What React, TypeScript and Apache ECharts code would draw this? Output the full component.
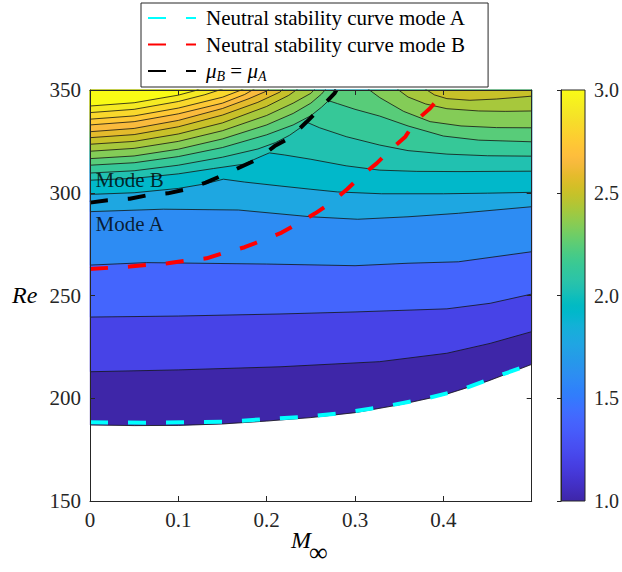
import React, { useEffect, useRef } from 'react';
import * as echarts from 'echarts';

// ---------- axis ranges / ticks ----------
const M_RANGE = [0, 0.5];
const RE_RANGE = [150, 350];
const CBAR_RANGE = [1, 3];

// ---------- contour lines [M, Re] ----------
const boundaryA = [[0, 187.0], [0.05, 186.7], [0.1, 186.8], [0.15, 187.5], [0.2, 188.9], [0.25, 190.6], [0.3, 193.0], [0.35, 196.8], [0.4, 201.5], [0.45, 208.3], [0.5, 216.5]];
const level1 = [[0, 212.9], [0.1, 213.8], [0.215, 215.3], [0.328, 217.8], [0.404, 221.9], [0.453, 226.7], [0.5, 232.4]];
const level2 = [[0, 239.5], [0.1, 240.0], [0.215, 241.0], [0.3, 242.0], [0.404, 243.5], [0.453, 246.2], [0.5, 250.7]];
const level3 = [[0, 264.8], [0.064, 266.0], [0.2, 265.3], [0.3, 264.5], [0.36, 265.7], [0.417, 266.4], [0.5, 271.3]];
const level4 = [[0, 290.8], [0.083, 292.0], [0.168, 291.6], [0.25, 288.3], [0.303, 287.1], [0.36, 288.3], [0.417, 290.0], [0.5, 293.2]];
const level5 = [[0, 299.2], [0.05, 300.0], [0.1, 302.1], [0.13, 304.3], [0.151, 306.6], [0.175, 305.2], [0.215, 303.3], [0.25, 301.7], [0.28, 300.4], [0.33, 299.5], [0.4, 299.5], [0.45, 299.8], [0.5, 300.2]];
const level6 = [[0, 306.1], [0.05, 307.0], [0.1, 309.2], [0.14, 311.8], [0.174, 313.9], [0.19, 317.0], [0.203, 319.4], [0.22, 318.4], [0.25, 316.3], [0.29, 313.1], [0.328, 311.0], [0.37, 310.4], [0.42, 310.3], [0.5, 310.5]];
const level7 = [[0, 309.6], [0.05, 310.7], [0.1, 313.4], [0.15, 317.3], [0.19, 321.3], [0.21, 324.4], [0.226, 328.0], [0.238, 331.6], [0.2455, 334.3], [0.26, 331.6], [0.29, 327.3], [0.328, 323.2], [0.36, 320.5], [0.404, 318.8], [0.45, 318.0], [0.5, 317.8]];
const level8 = [[0, 313.4], [0.05, 314.6], [0.1, 317.6], [0.15, 322.0], [0.2, 328.2], [0.23, 333.0], [0.25, 337.5], [0.262, 341.6], [0.27, 344.8], [0.28, 343.4], [0.3, 340.6], [0.328, 337.3], [0.36, 332.5], [0.4, 327.6], [0.44, 325.6], [0.5, 324.8]];
const level9Left = [[0, 316.6], [0.05, 317.9], [0.1, 321.2], [0.15, 326.2], [0.2, 333.0], [0.23, 338.6], [0.25, 343.6], [0.262, 348.0], [0.27, 352.0]];
const level9Right = [[0.31, 352.0], [0.328, 346.3], [0.355, 339.6], [0.385, 334.6], [0.42, 332.5], [0.46, 331.7], [0.5, 331.6]];
const level10Left = [[0, 320.2], [0.05, 321.6], [0.1, 325.0], [0.15, 330.2], [0.2, 337.6], [0.23, 343.6], [0.25, 348.4], [0.258, 352.0]];
const level10Right = [[0.343, 352.0], [0.36, 346.6], [0.38, 343.2], [0.404, 340.9], [0.44, 339.8], [0.47, 339.6], [0.5, 339.8]];
const level11Left = [[0, 323.6], [0.05, 325.0], [0.1, 328.6], [0.15, 334.0], [0.2, 342.0], [0.225, 347.4], [0.24, 352.0]];
const level11Right = [[0.374, 352.0], [0.39, 347.6], [0.404, 345.8], [0.43, 345.0], [0.46, 345.6], [0.5, 347.0]];
const level12 = [[0, 326.8], [0.05, 328.3], [0.1, 332.1], [0.15, 337.8], [0.19, 344.0], [0.215, 349.0], [0.222, 352.0]];
const level13 = [[0, 329.7], [0.05, 331.3], [0.1, 335.2], [0.15, 341.0], [0.18, 345.8], [0.2, 349.5], [0.206, 352.0]];
const level14 = [[0, 333.0], [0.05, 334.6], [0.1, 338.4], [0.15, 343.6], [0.175, 347.8], [0.192, 352.0]];
const level15 = [[0, 335.8], [0.05, 337.4], [0.1, 341.2], [0.15, 346.5], [0.17, 349.8], [0.18, 352.0]];
const level16 = [[0, 339.0], [0.05, 340.6], [0.1, 344.4], [0.13, 347.7], [0.15, 350.5], [0.156, 352.0]];
const level17 = [[0, 342.2], [0.05, 343.8], [0.1, 347.5], [0.12, 349.8], [0.13, 352.0]];

// contour values (mu) of boundary + 17 levels
const contourValues = [1.0, 1.2, 1.39, 1.6, 1.78, 1.92, 2.04, 2.14, 2.24, 2.34, 2.42, 2.5, 2.58, 2.66, 2.74, 2.82, 2.91, 3.0];
const contourParts = [
  [boundaryA], [level1], [level2], [level3], [level4], [level5], [level6], [level7], [level8],
  [level9Left, level9Right], [level10Left, level10Right], [level11Left, level11Right],
  [level12], [level13], [level14], [level15], [level16], [level17],
];

// ---------- dashed curves ----------
const neutralA = [[0, 188.3], [0.064, 188.1], [0.155, 188.6], [0.2, 189.9], [0.245, 191.0], [0.287, 192.9], [0.332, 195.9], [0.377, 199.5], [0.419, 204.0], [0.46, 210.5], [0.5, 216.7]];
const neutralB = [[0, 262.9], [0.045, 264.1], [0.066, 264.9], [0.088, 265.7], [0.109, 267.0], [0.132, 268.1], [0.152, 270.8], [0.175, 273.5], [0.196, 277.0], [0.217, 280.6], [0.236, 285.2], [0.255, 290.0], [0.272, 294.9], [0.291, 301.7], [0.306, 307.8], [0.3245, 314.3], [0.34, 320.8], [0.357, 327.3], [0.368, 334.6], [0.385, 341.1], [0.398, 347.6], [0.402, 350.0]];
const muEqual = [[0, 295.2], [0.02, 296.3], [0.045, 297.1], [0.065, 298.8], [0.088, 299.7], [0.109, 301.7], [0.131, 304.9], [0.15, 308.5], [0.173, 313.0], [0.19, 316.4], [0.209, 322.7], [0.226, 326.6], [0.245, 334.4], [0.259, 340.3], [0.277, 348.5], [0.279, 350.0]];

const modeLabels = [[0, 306.0, 'Mode B'], [0, 284.6, 'Mode A']];

const NAME_A = 'Neutral stability curve mode A';
const NAME_B = 'Neutral stability curve mode B';
const NAME_MU = 'μB = μA';

// ---------- colormap (parula) ----------
const PARULA = ['#3e26a8', '#402ab4', '#422ec0', '#4332cb', '#4537d5', '#463cde', '#4741e5', '#4747eb', '#484df0', '#4852f4', '#4758f8', '#465efb', '#4563fd', '#4269fe', '#3e6fff', '#3875fe', '#327cfc', '#2f81fa', '#2e87f7', '#2d8cf3', '#2b91ef', '#2796eb', '#259be8', '#23a0e5', '#20a5e3', '#1ca9df', '#18addb', '#12b1d6', '#08b5d0', '#01b8ca', '#02bac3', '#0bbdbd', '#19bfb6', '#24c1ae', '#2cc4a7', '#31c69f', '#37c897', '#3fca8e', '#4acb84', '#57cc7a', '#64cd6f', '#72cd64', '#81cc59', '#8fcb4e', '#9dc943', '#abc739', '#b9c431', '#c5c22a', '#d1bf27', '#dcbd29', '#e6bb2d', '#f0ba36', '#f8ba3d', '#febe3c', '#fec338', '#fec934', '#fccf30', '#fad62d', '#f7dc2a', '#f5e327', '#f5e924', '#f6ef20', '#f7f51b', '#f9fb15'];

function hexRgb(h: string) {
  return [parseInt(h.slice(1, 3), 16), parseInt(h.slice(3, 5), 16), parseInt(h.slice(5, 7), 16)];
}
function parula(v: number) {
  let t = (v - CBAR_RANGE[0]) / (CBAR_RANGE[1] - CBAR_RANGE[0]);
  t = Math.max(0, Math.min(1, t));
  const x = t * (PARULA.length - 1);
  const i = Math.floor(x);
  const j = Math.min(i + 1, PARULA.length - 1);
  const f = x - i;
  const a = hexRgb(PARULA[i]);
  const b = hexRgb(PARULA[j]);
  const c = a.map((u, k) => Math.round(u + (b[k] - u) * f));
  return `rgb(${c[0]},${c[1]},${c[2]})`;
}

// ---------- geometry helpers ----------
function closeTop(pts: number[][]) {
  const f = pts[0];
  const l = pts[pts.length - 1];
  const x0 = f[0] <= M_RANGE[0] ? M_RANGE[0] - 0.02 : f[0];
  const x1 = l[0] >= M_RANGE[1] ? M_RANGE[1] + 0.02 : l[0];
  const out: number[][] = [];
  if (f[0] <= M_RANGE[0]) out.push([x0, f[1]]);
  pts.forEach((p) => out.push(p));
  if (l[0] >= M_RANGE[1]) out.push([x1, l[1]]);
  out.push([x1, 420], [x0, 420]);
  return out;
}
function clipEdge(pts: number[][], inside: (p: number[]) => boolean, inter: (a: number[], b: number[]) => number[]) {
  const out: number[][] = [];
  for (let i = 0; i < pts.length; i++) {
    const cur = pts[i];
    const prev = pts[(i + pts.length - 1) % pts.length];
    if (inside(cur)) {
      if (!inside(prev)) out.push(inter(prev, cur));
      out.push(cur);
    } else if (inside(prev)) {
      out.push(inter(prev, cur));
    }
  }
  return out;
}
function clipRect(pts: number[][]) {
  const [x0, x1] = M_RANGE;
  const [y0, y1] = RE_RANGE;
  const ix = (x: number) => (a: number[], b: number[]) => [x, a[1] + ((b[1] - a[1]) * (x - a[0])) / (b[0] - a[0])];
  const iy = (y: number) => (a: number[], b: number[]) => [a[0] + ((b[0] - a[0]) * (y - a[1])) / (b[1] - a[1]), y];
  let p = clipEdge(pts, (q) => q[0] >= x0, ix(x0));
  p = clipEdge(p, (q) => q[0] <= x1, ix(x1));
  p = clipEdge(p, (q) => q[1] >= y0, iy(y0));
  p = clipEdge(p, (q) => q[1] <= y1, iy(y1));
  return p;
}

const fills: { pts: number[][]; color: string }[] = [];
contourParts.forEach((parts, k) => {
  parts.forEach((part) => {
    fills.push({ pts: clipRect(closeTop(part)), color: parula(contourValues[k]) });
  });
});

const SERIF = "'Liberation Serif', 'Times New Roman', serif";
const AX = '#262626';

export default function App() {
  const ref = useRef<HTMLDivElement>(null);
  useEffect(() => {
    const chart = echarts.init(ref.current as HTMLDivElement, null, { renderer: 'svg' });

    const contourLineSeries: any[] = [];
    contourParts.forEach((parts) => {
      parts.forEach((part) => {
        contourLineSeries.push({
          type: 'line', data: part, symbol: 'none', silent: true, z: 3,
          xAxisIndex: 0, yAxisIndex: 0,
          lineStyle: { color: '#141414', width: 0.8 },
        });
      });
    });

    const axisCommon = {
      axisLine: { show: true, onZero: false, lineStyle: { color: AX, width: 1 } },
      axisTick: { show: true, inside: true, length: 5, lineStyle: { color: AX, width: 1 } },
      splitLine: { show: false },
      z: 10,
    };

    const colorStops = PARULA.map((c, i) => ({ offset: i / (PARULA.length - 1), color: c }));

    const option: any = {
      animation: false,
      backgroundColor: '#ffffff',
      grid: [
        { left: 90, top: 90, width: 441.7, height: 411 },
        { left: 561, top: 90, width: 25, height: 411 },
      ],
      xAxis: [
        {
          type: 'value', gridIndex: 0, position: 'bottom', min: M_RANGE[0], max: M_RANGE[1], interval: 0.1,
          ...axisCommon,
          axisLabel: {
            margin: 8, color: AX, fontFamily: SERIF, fontSize: 21,
            formatter: (v: number) => (v > 0.45 ? '' : String(Math.round(v * 10) / 10)),
          },
        },
        {
          type: 'value', gridIndex: 0, position: 'top', min: M_RANGE[0], max: M_RANGE[1], interval: 0.1,
          ...axisCommon, axisLabel: { show: false },
        },
        { type: 'value', gridIndex: 1, min: 0, max: 1, show: false },
      ],
      yAxis: [
        {
          type: 'value', gridIndex: 0, position: 'left', min: RE_RANGE[0], max: RE_RANGE[1], interval: 50,
          ...axisCommon,
          axisLabel: { margin: 9, color: AX, fontFamily: SERIF, fontSize: 21 },
        },
        {
          type: 'value', gridIndex: 0, position: 'right', min: RE_RANGE[0], max: RE_RANGE[1], interval: 50,
          ...axisCommon, axisLabel: { show: false },
        },
        {
          type: 'value', gridIndex: 1, position: 'right', min: CBAR_RANGE[0], max: CBAR_RANGE[1], interval: 0.5,
          axisLine: { show: true, lineStyle: { color: AX, width: 1 } },
          axisTick: { show: true, inside: true, length: 4, lineStyle: { color: AX } },
          splitLine: { show: false },
          z: 10,
          axisLabel: { margin: 9, color: AX, fontFamily: SERIF, fontSize: 20, formatter: (v: number) => v.toFixed(1) },
        },
      ],
      legend: {
        data: [NAME_A, NAME_B, NAME_MU],
        orient: 'vertical',
        left: 141,
        top: 3,
        itemWidth: 48,
        itemHeight: 14,
        itemGap: 2.5,
        padding: [3, 22, 4, 6],
        backgroundColor: '#ffffff',
        borderColor: AX,
        borderWidth: 1,
        borderRadius: 0,
        selectedMode: false,
        itemStyle: { color: 'rgba(0,0,0,0)', borderColor: 'rgba(0,0,0,0)', borderWidth: 0, opacity: 0 },
        formatter: (name: string) => (name === NAME_MU ? '{i|μ}{s|B}{n| = }{i|μ}{s|A}' : name),
        textStyle: {
          fontFamily: SERIF, fontSize: 21, color: '#000', lineHeight: 24, padding: [0, 0, 0, 5],
          rich: {
            i: { fontFamily: SERIF, fontSize: 21, fontStyle: 'italic', color: '#000', lineHeight: 24 },
            n: { fontFamily: SERIF, fontSize: 21, color: '#000', lineHeight: 24 },
            s: { fontFamily: SERIF, fontSize: 14, fontStyle: 'italic', color: '#000', lineHeight: 14, verticalAlign: 'bottom' },
          },
        },
      },
      graphic: [
        { type: 'text', x: 12, y: 295, style: { text: 'Re', fontFamily: SERIF, fontSize: 24, fontStyle: 'italic', fill: '#000', align: 'left', verticalAlign: 'middle' } },
        { type: 'text', x: 291, y: 540, style: { text: 'M', fontFamily: SERIF, fontSize: 24, fontStyle: 'italic', fill: '#000', align: 'left', verticalAlign: 'middle' } },
        { type: 'text', x: 309, y: 552, style: { text: '∞', fontFamily: SERIF, fontSize: 26, fill: '#000', align: 'left', verticalAlign: 'middle' } },
      ],
      series: [
        {
          type: 'custom', coordinateSystem: 'cartesian2d', xAxisIndex: 0, yAxisIndex: 0, z: 1, silent: true,
          data: fills.map(() => [0.25, 250]),
          renderItem: (params: any, api: any) => {
            const f = fills[params.dataIndex];
            return {
              type: 'polygon',
              shape: { points: f.pts.map((p) => api.coord(p)) },
              style: { fill: f.color, stroke: f.color, lineWidth: 0.3 },
            };
          },
        },
        ...contourLineSeries,
        {
          name: NAME_A, type: 'line', data: neutralA, symbol: 'none', z: 5, xAxisIndex: 0, yAxisIndex: 0,
          itemStyle: { color: '#00ffff' },
          lineStyle: { color: '#00ffff', width: 4, type: [18, 20], cap: 'butt' },
        },
        {
          name: NAME_B, type: 'line', data: neutralB, symbol: 'none', z: 5, xAxisIndex: 0, yAxisIndex: 0,
          itemStyle: { color: '#ff0000' },
          lineStyle: { color: '#ff0000', width: 4, type: [18, 20], cap: 'butt' },
        },
        {
          name: NAME_MU, type: 'line', data: muEqual, symbol: 'none', z: 5, xAxisIndex: 0, yAxisIndex: 0,
          itemStyle: { color: '#000000' },
          lineStyle: { color: '#000000', width: 4, type: [18, 20], cap: 'butt' },
        },
        {
          type: 'scatter', data: modeLabels, xAxisIndex: 0, yAxisIndex: 0, z: 6, silent: true,
          symbolSize: 1, itemStyle: { color: 'rgba(0,0,0,0)' },
          label: {
            show: true, position: 'right', distance: 5,
            formatter: (p: any) => p.data[2],
            fontFamily: SERIF, fontSize: 21, color: '#000',
          },
        },
        {
          type: 'custom', coordinateSystem: 'cartesian2d', xAxisIndex: 2, yAxisIndex: 2, z: 1, silent: true,
          data: [[0.5, 2]],
          renderItem: (params: any, api: any) => {
            const a = api.coord([0, CBAR_RANGE[0]]);
            const b = api.coord([1, CBAR_RANGE[1]]);
            return {
              type: 'rect',
              shape: { x: a[0], y: b[1], width: b[0] - a[0], height: a[1] - b[1] },
              style: {
                fill: { type: 'linear', x: 0, y: 1, x2: 0, y2: 0, colorStops },
                stroke: AX, lineWidth: 1,
              },
            };
          },
        },
      ],
    };

    chart.setOption(option);
    return () => chart.dispose();
  }, []);
  return <div ref={ref} style={{ position: 'absolute', left: 0, top: 0, width: 622, height: 572, background: '#fff' }} />;
}
